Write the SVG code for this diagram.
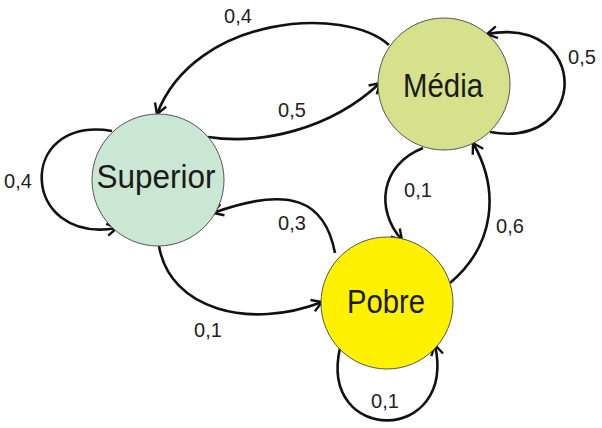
<svg xmlns="http://www.w3.org/2000/svg" width="602" height="428" viewBox="0 0 602 428">
<style>
.node{stroke:#555;stroke-width:1}
.name{font-family:"Liberation Sans",Arial,sans-serif;font-size:33px;fill:#1a1a1a;text-anchor:middle}
.lbl{font-family:"Liberation Sans",Arial,sans-serif;font-size:20px;fill:#222;text-anchor:middle}
.edge{fill:none;stroke:#111;stroke-width:2.6;marker-end:url(#arr)}
</style>
<defs>
<marker id="arr" markerUnits="userSpaceOnUse" markerWidth="16" markerHeight="16" viewBox="0 0 16 16" refX="13" refY="8" orient="auto">
<path d="M3,2 L13,8 L3,14" fill="none" stroke="#111" stroke-width="2.4"/>
</marker>
</defs>
<rect width="602" height="428" fill="#fff"/>
<g id="connectors">
<path class="edge" d="M389 45 C345 5,195 15,157 114"/>
<path class="edge" d="M208 137 C260 145,330 130,380 83"/>
<path class="edge" d="M490 132 C590 150,590 15,487 34"/>
<path class="edge" d="M112 131 C15 115,20 245,117 228"/>
<path class="edge" d="M423 148 C380 165,375 210,402 240"/>
<path class="edge" d="M450 283 C495 245,500 190,473 143"/>
<path class="edge" d="M335 253 C325 200,290 185,213 213"/>
<path class="edge" d="M159 246 C170 310,250 330,322 302"/>
<path class="edge" d="M340 348 C318 445,457 445,435 345"/>
</g>
<g id="labels">
<text class="lbl" x="238" y="23">0,4</text>
<text class="lbl" x="292" y="117">0,5</text>
<text class="lbl" x="582" y="64">0,5</text>
<text class="lbl" x="18" y="188">0,4</text>
<text class="lbl" x="418" y="197">0,1</text>
<text class="lbl" x="510" y="233">0,6</text>
<text class="lbl" x="292" y="230">0,3</text>
<text class="lbl" x="208" y="337">0,1</text>
<text class="lbl" x="385" y="408">0,1</text>
</g>
<g id="superior">
<circle class="node" cx="158" cy="180" r="66" fill="#cae7d4"/>
<text class="name" x="156" y="188" textLength="119" lengthAdjust="spacingAndGlyphs">Superior</text>
</g>
<g id="media">
<circle class="node" cx="444" cy="84" r="66" fill="#d5e18b"/>
<text class="name" x="443" y="97" textLength="80" lengthAdjust="spacingAndGlyphs">Média</text>
</g>
<g id="pobre">
<circle class="node" cx="387" cy="303" r="66" fill="#fff200"/>
<text class="name" x="386" y="313" textLength="78" lengthAdjust="spacingAndGlyphs">Pobre</text>
</g>
</svg>
